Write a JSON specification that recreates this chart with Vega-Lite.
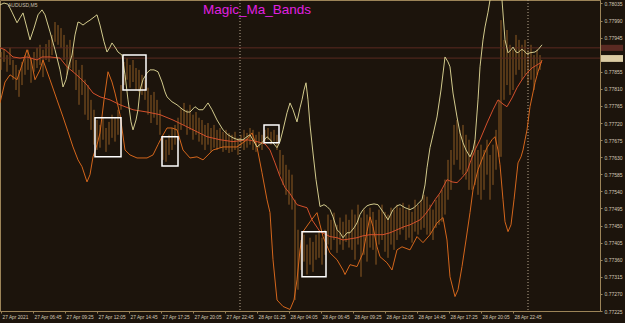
{
  "$schema": "https://vega.github.io/schema/vega-lite/v6.json",
  "width": 600,
  "height": 311,
  "autosize": {"type": "none"},
  "padding": {"left": 0, "top": 0, "right": 25, "bottom": 12},
  "background": "#1c140c",
  "config": {
    "view": {"stroke": "#9c8458", "strokeWidth": 1},
    "font": "Liberation Sans",
    "axis": {"labelOverlap": false, "labelBound": false, "labelFlush": false, "grid": false, "title": null}
  },
  "datasets": {
    "hlines": [{"p": 0.77918}, {"p": 0.77891}],
    "seps": [{"i": 240}, {"i": 528}],
    "upper": [
      {"i":0,"p":0.78031},{"i":4,"p":0.78036},{"i":8,"p":0.78033},{"i":12,"p":0.78012},{"i":17,"p":0.77984},{"i":20,"p":0.77997},{"i":23,"p":0.78010},{"i":27,"p":0.77970},{"i":30,"p":0.77939},{"i":34,"p":0.77970},{"i":38,"p":0.78005},{"i":42,"p":0.78018},{"i":45,"p":0.78005},{"i":50,"p":0.77960},{"i":55,"p":0.77913},{"i":60,"p":0.77860},{"i":63,"p":0.77815},{"i":66,"p":0.77834},{"i":69,"p":0.77873},{"i":72,"p":0.77899},{"i":75,"p":0.77952},{"i":78,"p":0.77986},{"i":80,"p":0.77984},{"i":83,"p":0.77978},{"i":87,"p":0.77986},{"i":90,"p":0.77991},{"i":94,"p":0.77999},{"i":97,"p":0.78005},{"i":100,"p":0.77978},{"i":104,"p":0.77934},{"i":107,"p":0.77907},{"i":110,"p":0.77920},{"i":112,"p":0.77931},{"i":115,"p":0.77920},{"i":118,"p":0.77907},{"i":122,"p":0.77899},{"i":125,"p":0.77847},{"i":128,"p":0.77781},{"i":131,"p":0.77723},{"i":133,"p":0.77702},{"i":136,"p":0.77728},{"i":138,"p":0.77755},{"i":140,"p":0.77807},{"i":143,"p":0.77834},{"i":147,"p":0.77852},{"i":150,"p":0.77860},{"i":154,"p":0.77860},{"i":158,"p":0.77855},{"i":162,"p":0.77828},{"i":165,"p":0.77802},{"i":167,"p":0.77789},{"i":172,"p":0.77776},{"i":177,"p":0.77768},{"i":183,"p":0.77755},{"i":187,"p":0.77749},{"i":190,"p":0.77749},{"i":195,"p":0.77763},{"i":199,"p":0.77755},{"i":203,"p":0.77755},{"i":208,"p":0.77773},{"i":212,"p":0.77755},{"i":217,"p":0.77728},{"i":223,"p":0.77702},{"i":228,"p":0.77689},{"i":233,"p":0.77681},{"i":238,"p":0.77676},{"i":243,"p":0.77676},{"i":247,"p":0.77684},{"i":250,"p":0.77689},{"i":254,"p":0.77671},{"i":257,"p":0.77657},{"i":262,"p":0.77668},{"i":267,"p":0.77684},{"i":272,"p":0.77671},{"i":277,"p":0.77655},{"i":280,"p":0.77671},{"i":283,"p":0.77702},{"i":287,"p":0.77747},{"i":290,"p":0.77773},{"i":293,"p":0.77755},{"i":297,"p":0.77723},{"i":300,"p":0.77760},{"i":302,"p":0.77781},{"i":304,"p":0.77807},{"i":306,"p":0.77826},{"i":308,"p":0.77781},{"i":310,"p":0.77715},{"i":313,"p":0.77641},{"i":316,"p":0.77571},{"i":320,"p":0.77500},{"i":324,"p":0.77505},{"i":327,"p":0.77500},{"i":330,"p":0.77492},{"i":333,"p":0.77473},{"i":337,"p":0.77439},{"i":340,"p":0.77431},{"i":343,"p":0.77418},{"i":347,"p":0.77431},{"i":350,"p":0.77431},{"i":354,"p":0.77444},{"i":357,"p":0.77457},{"i":360,"p":0.77479},{"i":363,"p":0.77492},{"i":367,"p":0.77502},{"i":370,"p":0.77505},{"i":374,"p":0.77507},{"i":378,"p":0.77505},{"i":383,"p":0.77486},{"i":388,"p":0.77465},{"i":393,"p":0.77492},{"i":397,"p":0.77502},{"i":400,"p":0.77505},{"i":405,"p":0.77497},{"i":410,"p":0.77492},{"i":414,"p":0.77497},{"i":417,"p":0.77505},{"i":422,"p":0.77518},{"i":425,"p":0.77557},{"i":427,"p":0.77602},{"i":430,"p":0.77655},{"i":433,"p":0.77689},{"i":437,"p":0.77736},{"i":441,"p":0.77807},{"i":445,"p":0.77894},{"i":448,"p":0.77881},{"i":450,"p":0.77868},{"i":453,"p":0.77799},{"i":457,"p":0.77736},{"i":460,"p":0.77694},{"i":463,"p":0.77668},{"i":466,"p":0.77649},{"i":470,"p":0.77631},{"i":473,"p":0.77649},{"i":475,"p":0.77676},{"i":478,"p":0.77781},{"i":480,"p":0.77868},{"i":483,"p":0.77939},{"i":485,"p":0.77973},{"i":488,"p":0.78012},{"i":490,"p":0.78044},{"i":493,"p":0.78097},{"i":496,"p":0.78118},{"i":499,"p":0.78083},{"i":502,"p":0.78044},{"i":505,"p":0.77939},{"i":508,"p":0.77905},{"i":511,"p":0.77913},{"i":513,"p":0.77920},{"i":516,"p":0.77907},{"i":518,"p":0.77905},{"i":521,"p":0.77913},{"i":523,"p":0.77913},{"i":527,"p":0.77902},{"i":530,"p":0.77905},{"i":535,"p":0.77907},{"i":538,"p":0.77913},{"i":542,"p":0.77926}
    ],
    "mid": [
      {"i":0,"p":0.77918},{"i":5,"p":0.77913},{"i":13,"p":0.77894},{"i":20,"p":0.77891},{"i":27,"p":0.77894},{"i":37,"p":0.77886},{"i":42,"p":0.77894},{"i":50,"p":0.77894},{"i":60,"p":0.77891},{"i":67,"p":0.77868},{"i":73,"p":0.77855},{"i":80,"p":0.77839},{"i":87,"p":0.77820},{"i":93,"p":0.77799},{"i":100,"p":0.77789},{"i":110,"p":0.77781},{"i":120,"p":0.77768},{"i":133,"p":0.77755},{"i":147,"p":0.77749},{"i":160,"p":0.77742},{"i":173,"p":0.77728},{"i":187,"p":0.77710},{"i":197,"p":0.77697},{"i":207,"p":0.77684},{"i":220,"p":0.77676},{"i":233,"p":0.77671},{"i":247,"p":0.77676},{"i":257,"p":0.77671},{"i":265,"p":0.77665},{"i":270,"p":0.77649},{"i":275,"p":0.77615},{"i":280,"p":0.77579},{"i":285,"p":0.77550},{"i":290,"p":0.77534},{"i":297,"p":0.77505},{"i":303,"p":0.77500},{"i":307,"p":0.77497},{"i":312,"p":0.77465},{"i":320,"p":0.77434},{"i":330,"p":0.77421},{"i":337,"p":0.77418},{"i":343,"p":0.77412},{"i":350,"p":0.77415},{"i":357,"p":0.77418},{"i":363,"p":0.77423},{"i":370,"p":0.77426},{"i":383,"p":0.77426},{"i":390,"p":0.77431},{"i":397,"p":0.77439},{"i":404,"p":0.77447},{"i":410,"p":0.77452},{"i":420,"p":0.77465},{"i":425,"p":0.77479},{"i":430,"p":0.77497},{"i":435,"p":0.77518},{"i":440,"p":0.77536},{"i":447,"p":0.77571},{"i":452,"p":0.77565},{"i":457,"p":0.77563},{"i":462,"p":0.77576},{"i":467,"p":0.77592},{"i":470,"p":0.77615},{"i":475,"p":0.77649},{"i":480,"p":0.77676},{"i":487,"p":0.77720},{"i":493,"p":0.77755},{"i":498,"p":0.77781},{"i":503,"p":0.77770},{"i":507,"p":0.77763},{"i":512,"p":0.77786},{"i":517,"p":0.77813},{"i":522,"p":0.77834},{"i":527,"p":0.77852},{"i":532,"p":0.77865},{"i":537,"p":0.77873},{"i":542,"p":0.77881}
    ],
    "lower": [
      {"i":0,"p":0.77773},{"i":5,"p":0.77828},{"i":10,"p":0.77847},{"i":17,"p":0.77834},{"i":22,"p":0.77873},{"i":27,"p":0.77913},{"i":31,"p":0.77886},{"i":35,"p":0.77834},{"i":40,"p":0.77860},{"i":43,"p":0.77886},{"i":50,"p":0.77834},{"i":57,"p":0.77781},{"i":63,"p":0.77736},{"i":68,"p":0.77697},{"i":73,"p":0.77657},{"i":78,"p":0.77623},{"i":82,"p":0.77605},{"i":87,"p":0.77565},{"i":90,"p":0.77584},{"i":93,"p":0.77631},{"i":97,"p":0.77663},{"i":100,"p":0.77694},{"i":104,"p":0.77781},{"i":108,"p":0.77855},{"i":112,"p":0.77828},{"i":115,"p":0.77799},{"i":120,"p":0.77742},{"i":125,"p":0.77649},{"i":130,"p":0.77636},{"i":137,"p":0.77628},{"i":147,"p":0.77628},{"i":153,"p":0.77636},{"i":158,"p":0.77663},{"i":162,"p":0.77684},{"i":167,"p":0.77707},{"i":172,"p":0.77707},{"i":177,"p":0.77702},{"i":183,"p":0.77649},{"i":190,"p":0.77628},{"i":197,"p":0.77631},{"i":203,"p":0.77623},{"i":208,"p":0.77636},{"i":213,"p":0.77649},{"i":223,"p":0.77657},{"i":237,"p":0.77657},{"i":247,"p":0.77676},{"i":252,"p":0.77694},{"i":257,"p":0.77657},{"i":262,"p":0.77589},{"i":267,"p":0.77518},{"i":270,"p":0.77484},{"i":273,"p":0.77360},{"i":277,"p":0.77254},{"i":283,"p":0.77237},{"i":290,"p":0.77229},{"i":294,"p":0.77254},{"i":297,"p":0.77307},{"i":300,"p":0.77386},{"i":303,"p":0.77434},{"i":310,"p":0.77460},{"i":317,"p":0.77484},{"i":320,"p":0.77452},{"i":323,"p":0.77421},{"i":330,"p":0.77378},{"i":337,"p":0.77360},{"i":343,"p":0.77333},{"i":345,"p":0.77321},{"i":350,"p":0.77347},{"i":357,"p":0.77342},{"i":363,"p":0.77378},{"i":367,"p":0.77434},{"i":370,"p":0.77473},{"i":373,"p":0.77447},{"i":377,"p":0.77394},{"i":380,"p":0.77368},{"i":387,"p":0.77352},{"i":392,"p":0.77333},{"i":397,"p":0.77386},{"i":402,"p":0.77394},{"i":410,"p":0.77386},{"i":417,"p":0.77421},{"i":423,"p":0.77405},{"i":430,"p":0.77426},{"i":437,"p":0.77457},{"i":443,"p":0.77471},{"i":447,"p":0.77412},{"i":450,"p":0.77315},{"i":455,"p":0.77263},{"i":458,"p":0.77281},{"i":462,"p":0.77342},{"i":466,"p":0.77412},{"i":470,"p":0.77484},{"i":473,"p":0.77544},{"i":478,"p":0.77597},{"i":483,"p":0.77631},{"i":487,"p":0.77655},{"i":492,"p":0.77676},{"i":495,"p":0.77684},{"i":498,"p":0.77649},{"i":500,"p":0.77610},{"i":503,"p":0.77518},{"i":505,"p":0.77460},{"i":508,"p":0.77434},{"i":511,"p":0.77452},{"i":514,"p":0.77518},{"i":518,"p":0.77615},{"i":521,"p":0.77631},{"i":523,"p":0.77649},{"i":527,"p":0.77702},{"i":530,"p":0.77763},{"i":535,"p":0.77826},{"i":538,"p":0.77855},{"i":542,"p":0.77886}
    ],
    "bars": [
      {"i":1,"hi":0.77907,"lo":0.77860},{"i":4,"hi":0.77913,"lo":0.77881},{"i":7,"hi":0.77899,"lo":0.77855},{"i":10,"hi":0.77918,"lo":0.77873},{"i":13,"hi":0.77886,"lo":0.77834},{"i":16,"hi":0.77873,"lo":0.77807},{"i":19,"hi":0.77860,"lo":0.77789},{"i":22,"hi":0.77881,"lo":0.77820},{"i":25,"hi":0.77899,"lo":0.77847},{"i":28,"hi":0.77913,"lo":0.77860},{"i":31,"hi":0.77891,"lo":0.77826},{"i":34,"hi":0.77907,"lo":0.77855},{"i":37,"hi":0.77918,"lo":0.77865},{"i":40,"hi":0.77926,"lo":0.77873},{"i":43,"hi":0.77913,"lo":0.77841},{"i":46,"hi":0.77928,"lo":0.77886},{"i":49,"hi":0.77939,"lo":0.77881},{"i":52,"hi":0.77952,"lo":0.77899},{"i":55,"hi":0.77986,"lo":0.77934},{"i":58,"hi":0.77978,"lo":0.77926},{"i":61,"hi":0.77970,"lo":0.77918},{"i":64,"hi":0.77952,"lo":0.77886},{"i":67,"hi":0.77926,"lo":0.77847},{"i":70,"hi":0.77939,"lo":0.77865},{"i":73,"hi":0.77913,"lo":0.77855},{"i":76,"hi":0.77886,"lo":0.77807},{"i":79,"hi":0.77860,"lo":0.77768},{"i":82,"hi":0.77873,"lo":0.77794},{"i":85,"hi":0.77834,"lo":0.77742},{"i":88,"hi":0.77820,"lo":0.77728},{"i":91,"hi":0.77781,"lo":0.77702},{"i":94,"hi":0.77755,"lo":0.77663},{"i":97,"hi":0.77728,"lo":0.77649},{"i":100,"hi":0.77715,"lo":0.77655},{"i":103,"hi":0.77734,"lo":0.77676},{"i":106,"hi":0.77707,"lo":0.77644},{"i":109,"hi":0.77723,"lo":0.77663},{"i":112,"hi":0.77742,"lo":0.77681},{"i":115,"hi":0.77734,"lo":0.77671},{"i":118,"hi":0.77755,"lo":0.77689},{"i":121,"hi":0.77820,"lo":0.77755},{"i":124,"hi":0.77881,"lo":0.77820},{"i":127,"hi":0.77891,"lo":0.77834},{"i":130,"hi":0.77873,"lo":0.77813},{"i":133,"hi":0.77886,"lo":0.77828},{"i":136,"hi":0.77865,"lo":0.77807},{"i":139,"hi":0.77860,"lo":0.77802},{"i":142,"hi":0.77847,"lo":0.77794},{"i":145,"hi":0.77834,"lo":0.77781},{"i":148,"hi":0.77813,"lo":0.77742},{"i":151,"hi":0.77794,"lo":0.77720},{"i":154,"hi":0.77802,"lo":0.77734},{"i":157,"hi":0.77781,"lo":0.77715},{"i":160,"hi":0.77755,"lo":0.77689},{"i":163,"hi":0.77681,"lo":0.77623},{"i":166,"hi":0.77676,"lo":0.77618},{"i":169,"hi":0.77689,"lo":0.77636},{"i":172,"hi":0.77707,"lo":0.77649},{"i":175,"hi":0.77715,"lo":0.77663},{"i":178,"hi":0.77734,"lo":0.77676},{"i":181,"hi":0.77760,"lo":0.77702},{"i":184,"hi":0.77773,"lo":0.77715},{"i":187,"hi":0.77755,"lo":0.77689},{"i":190,"hi":0.77768,"lo":0.77702},{"i":193,"hi":0.77742,"lo":0.77676},{"i":196,"hi":0.77749,"lo":0.77689},{"i":199,"hi":0.77734,"lo":0.77671},{"i":202,"hi":0.77728,"lo":0.77663},{"i":205,"hi":0.77715,"lo":0.77649},{"i":208,"hi":0.77720,"lo":0.77663},{"i":211,"hi":0.77707,"lo":0.77644},{"i":214,"hi":0.77715,"lo":0.77655},{"i":217,"hi":0.77702,"lo":0.77649},{"i":220,"hi":0.77707,"lo":0.77655},{"i":223,"hi":0.77697,"lo":0.77644},{"i":226,"hi":0.77702,"lo":0.77649},{"i":229,"hi":0.77694,"lo":0.77641},{"i":232,"hi":0.77689,"lo":0.77644},{"i":235,"hi":0.77697,"lo":0.77649},{"i":238,"hi":0.77681,"lo":0.77636},{"i":241,"hi":0.77689,"lo":0.77655},{"i":244,"hi":0.77702,"lo":0.77649},{"i":247,"hi":0.77694,"lo":0.77655},{"i":250,"hi":0.77707,"lo":0.77663},{"i":253,"hi":0.77702,"lo":0.77649},{"i":256,"hi":0.77689,"lo":0.77644},{"i":259,"hi":0.77697,"lo":0.77655},{"i":262,"hi":0.77689,"lo":0.77649},{"i":265,"hi":0.77702,"lo":0.77671},{"i":268,"hi":0.77707,"lo":0.77676},{"i":271,"hi":0.77697,"lo":0.77663},{"i":274,"hi":0.77702,"lo":0.77671},{"i":277,"hi":0.77689,"lo":0.77649},{"i":280,"hi":0.77649,"lo":0.77584},{"i":283,"hi":0.77636,"lo":0.77557},{"i":286,"hi":0.77610,"lo":0.77531},{"i":289,"hi":0.77597,"lo":0.77505},{"i":292,"hi":0.77584,"lo":0.77492},{"i":295,"hi":0.77518,"lo":0.77254},{"i":298,"hi":0.77439,"lo":0.77281},{"i":301,"hi":0.77412,"lo":0.77333},{"i":304,"hi":0.77426,"lo":0.77355},{"i":307,"hi":0.77400,"lo":0.77321},{"i":310,"hi":0.77418,"lo":0.77347},{"i":313,"hi":0.77407,"lo":0.77328},{"i":316,"hi":0.77426,"lo":0.77360},{"i":319,"hi":0.77434,"lo":0.77365},{"i":322,"hi":0.77418,"lo":0.77347},{"i":325,"hi":0.77439,"lo":0.77373},{"i":328,"hi":0.77479,"lo":0.77400},{"i":331,"hi":0.77465,"lo":0.77386},{"i":334,"hi":0.77484,"lo":0.77412},{"i":337,"hi":0.77452,"lo":0.77378},{"i":340,"hi":0.77471,"lo":0.77400},{"i":343,"hi":0.77460,"lo":0.77386},{"i":346,"hi":0.77479,"lo":0.77407},{"i":349,"hi":0.77465,"lo":0.77392},{"i":352,"hi":0.77492,"lo":0.77386},{"i":355,"hi":0.77479,"lo":0.77360},{"i":358,"hi":0.77505,"lo":0.77400},{"i":361,"hi":0.77471,"lo":0.77315},{"i":364,"hi":0.77492,"lo":0.77373},{"i":367,"hi":0.77479,"lo":0.77355},{"i":370,"hi":0.77497,"lo":0.77392},{"i":373,"hi":0.77486,"lo":0.77386},{"i":376,"hi":0.77465,"lo":0.77347},{"i":379,"hi":0.77492,"lo":0.77400},{"i":382,"hi":0.77505,"lo":0.77412},{"i":385,"hi":0.77486,"lo":0.77381},{"i":388,"hi":0.77479,"lo":0.77365},{"i":391,"hi":0.77497,"lo":0.77400},{"i":394,"hi":0.77492,"lo":0.77386},{"i":397,"hi":0.77505,"lo":0.77412},{"i":400,"hi":0.77497,"lo":0.77426},{"i":403,"hi":0.77510,"lo":0.77439},{"i":406,"hi":0.77492,"lo":0.77412},{"i":409,"hi":0.77505,"lo":0.77418},{"i":412,"hi":0.77486,"lo":0.77405},{"i":415,"hi":0.77518,"lo":0.77434},{"i":418,"hi":0.77505,"lo":0.77426},{"i":421,"hi":0.77518,"lo":0.77439},{"i":424,"hi":0.77531,"lo":0.77444},{"i":427,"hi":0.77526,"lo":0.77426},{"i":430,"hi":0.77505,"lo":0.77426},{"i":433,"hi":0.77492,"lo":0.77412},{"i":436,"hi":0.77518,"lo":0.77444},{"i":439,"hi":0.77531,"lo":0.77452},{"i":442,"hi":0.77544,"lo":0.77460},{"i":445,"hi":0.77571,"lo":0.77479},{"i":448,"hi":0.77623,"lo":0.77518},{"i":451,"hi":0.77649,"lo":0.77544},{"i":454,"hi":0.77715,"lo":0.77610},{"i":457,"hi":0.77728,"lo":0.77623},{"i":460,"hi":0.77702,"lo":0.77597},{"i":463,"hi":0.77715,"lo":0.77584},{"i":466,"hi":0.77689,"lo":0.77571},{"i":469,"hi":0.77676,"lo":0.77544},{"i":472,"hi":0.77649,"lo":0.77544},{"i":475,"hi":0.77676,"lo":0.77557},{"i":478,"hi":0.77649,"lo":0.77531},{"i":481,"hi":0.77663,"lo":0.77518},{"i":484,"hi":0.77649,"lo":0.77544},{"i":487,"hi":0.77676,"lo":0.77584},{"i":490,"hi":0.77636,"lo":0.77518},{"i":493,"hi":0.77663,"lo":0.77557},{"i":496,"hi":0.77702,"lo":0.77597},{"i":499,"hi":0.77781,"lo":0.77631},{"i":501,"hi":0.77991,"lo":0.77631},{"i":504,"hi":0.77939,"lo":0.77781},{"i":507,"hi":0.77965,"lo":0.77820},{"i":510,"hi":0.77926,"lo":0.77794},{"i":513,"hi":0.77913,"lo":0.77807},{"i":516,"hi":0.77952,"lo":0.77847},{"i":519,"hi":0.77939,"lo":0.77860},{"i":522,"hi":0.77926,"lo":0.77834},{"i":525,"hi":0.77939,"lo":0.77847},{"i":528,"hi":0.77913,"lo":0.77820},{"i":531,"hi":0.77926,"lo":0.77834},{"i":534,"hi":0.77899,"lo":0.77807},{"i":537,"hi":0.77913,"lo":0.77847},{"i":540,"hi":0.77899,"lo":0.77860}
    ],
    "boxes": [
      {"i":95,"i2":121,"p":0.77734,"p2":0.77631},
      {"i":123,"i2":146,"p":0.77899,"p2":0.77807},
      {"i":162,"i2":178,"p":0.77684,"p2":0.77607},
      {"i":264,"i2":279,"p":0.77715,"p2":0.77668},
      {"i":302,"i2":326,"p":0.77434,"p2":0.77315}
    ],
    "tags": [
      {"i":601,"i2":623,"p":0.77926,"p2":0.77910,"t":"0.77918","c":"red"},
      {"i":601,"i2":623,"p":0.77899,"p2":0.77881,"t":"0.77891","c":"bid"}
    ],
    "title": [{"i":203,"p":0.78007,"t":"Magic_Ma_Bands"}],
    "sym": [{"i":8,"p":0.78031,"t":"AUDUSD,M5"}]
  },
  "layer": [
    {
      "data": {"name": "bars"},
      "mark": {"type": "rule", "color": "#9a6226", "strokeWidth": 1, "opacity": 0.9},
      "encoding": {
        "x": {
          "field": "i", "type": "quantitative",
          "scale": {"domain": [0, 600], "zero": false, "nice": false},
          "axis": {
            "title": null, "grid": false, "tickCount": 200,
            "values": [1, 33, 65, 97, 129, 161, 193, 225, 257, 289, 321, 353, 385, 417, 449, 481, 513],
            "labelExpr": "['27 Apr 2021','27 Apr 06:45','27 Apr 09:25','27 Apr 12:05','27 Apr 14:45','27 Apr 17:25','27 Apr 20:05','27 Apr 22:45','28 Apr 01:25','28 Apr 04:05','28 Apr 06:45','28 Apr 09:25','28 Apr 12:05','28 Apr 14:45','28 Apr 17:25','28 Apr 20:05','28 Apr 22:45'][indexof([1,33,65,97,129,161,193,225,257,289,321,353,385,417,449,481,513], datum.value)]",
            "labelAlign": "left", "labelOffset": 1, "labelFont": "Liberation Sans", "labelFontSize": 4.8, "labelColor": "#d4c8b4",
            "labelOverlap": false, "labelBound": false, "labelFlush": false, "labelPadding": 1,
            "tickSize": 2, "tickColor": "#9c8458", "domainColor": "#9c8458"
          }
        },
        "y": {
          "field": "hi", "type": "quantitative",
          "scale": {"domain": [0.77225, 0.78044], "zero": false, "nice": false},
          "axis": {
            "title": null, "grid": false, "orient": "right", "tickCount": 200,
            "values": [0.78035, 0.7799, 0.77945, 0.77855, 0.7781, 0.77765, 0.7772, 0.77675, 0.7763, 0.77585, 0.7754, 0.77495, 0.7745, 0.77405, 0.7736, 0.77315, 0.7727, 0.77225],
            "format": ".5f", "labelFont": "Liberation Sans", "labelFontSize": 5, "labelColor": "#d4c8b4",
            "labelOverlap": false, "labelBound": false, "labelFlush": false, "labelPadding": 2,
            "tickSize": 2, "tickColor": "#9c8458", "domainColor": "#9c8458"
          }
        },
        "y2": {"field": "lo"}
      }
    },
    {
      "data": {"name": "hlines"},
      "mark": {"type": "rule", "color": "#5a2a20", "strokeWidth": 1},
      "encoding": {
        "y": {"field": "p", "type": "quantitative"}
      }
    },
    {
      "data": {"name": "seps"},
      "mark": {"type": "rule", "color": "#b8a890", "strokeWidth": 1, "strokeDash": [1, 2]},
      "encoding": {
        "x": {"field": "i", "type": "quantitative"}
      }
    },
    {
      "data": {"name": "lower"},
      "mark": {"type": "line", "color": "#d4661c", "strokeWidth": 1, "clip": true},
      "encoding": {
        "x": {"field": "i", "type": "quantitative"},
        "y": {"field": "p", "type": "quantitative"}
      }
    },
    {
      "data": {"name": "mid"},
      "mark": {"type": "line", "color": "#d4502c", "strokeWidth": 1, "clip": true},
      "encoding": {
        "x": {"field": "i", "type": "quantitative"},
        "y": {"field": "p", "type": "quantitative"}
      }
    },
    {
      "data": {"name": "upper"},
      "mark": {"type": "line", "color": "#d2ca8c", "strokeWidth": 1, "clip": true},
      "encoding": {
        "x": {"field": "i", "type": "quantitative"},
        "y": {"field": "p", "type": "quantitative"}
      }
    },
    {
      "data": {"name": "boxes"},
      "mark": {"type": "rect", "fillOpacity": 0, "stroke": "#ffffff", "strokeWidth": 1.5},
      "encoding": {
        "x": {"field": "i", "type": "quantitative"},
        "x2": {"field": "i2"},
        "y": {"field": "p", "type": "quantitative"},
        "y2": {"field": "p2"}
      }
    },
    {
      "data": {"name": "tags"},
      "mark": {"type": "rect", "clip": false},
      "encoding": {
        "x": {"field": "i", "type": "quantitative"},
        "x2": {"field": "i2"},
        "y": {"field": "p", "type": "quantitative"},
        "y2": {"field": "p2"},
        "color": {"field": "c", "type": "nominal", "scale": {"domain": ["red", "bid"], "range": ["#5a2a22", "#dccca4"]}, "legend": null}
      }
    },
    {
      "data": {"name": "tags"},
      "mark": {"type": "text", "clip": false, "align": "left", "baseline": "top", "font": "Liberation Sans", "fontSize": 5, "dx": 2, "dy": 0.5},
      "encoding": {
        "x": {"field": "i", "type": "quantitative"},
        "y": {"field": "p", "type": "quantitative"},
        "text": {"field": "t"},
        "color": {"field": "c", "type": "nominal", "scale": {"domain": ["red", "bid"], "range": ["#b08070", "#201008"]}, "legend": null}
      }
    },
    {
      "data": {"name": "title"},
      "mark": {"type": "text", "clip": false, "align": "left", "baseline": "alphabetic", "font": "Liberation Sans", "fontSize": 13.5, "color": "#e020e0"},
      "encoding": {
        "x": {"field": "i", "type": "quantitative"},
        "y": {"field": "p", "type": "quantitative"},
        "text": {"field": "t"}
      }
    },
    {
      "data": {"name": "sym"},
      "mark": {"type": "text", "clip": false, "align": "left", "baseline": "middle", "font": "Liberation Sans", "fontSize": 5, "color": "#c8c0b0"},
      "encoding": {
        "x": {"field": "i", "type": "quantitative"},
        "y": {"field": "p", "type": "quantitative"},
        "text": {"field": "t"}
      }
    }
  ]
}
